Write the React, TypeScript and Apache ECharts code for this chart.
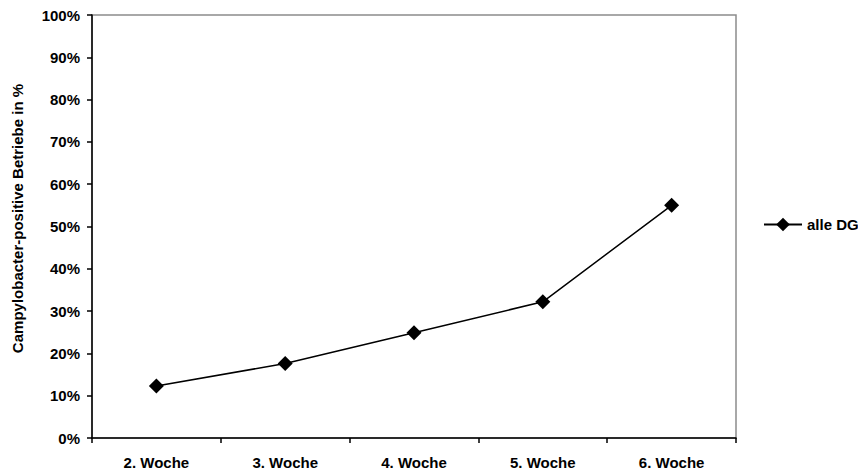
import React, { useEffect, useRef } from "react";
import * as echarts from "echarts";

const weeks = ["2. Woche", "3. Woche", "4. Woche", "5. Woche", "6. Woche"];
const positiveShare = [12.3, 17.6, 24.9, 32.2, 55.0];
const seriesName = "alle DG";
const yTitle = "Campylobacter-positive Betriebe in %";

const FONT = "Liberation Sans, Arial, Helvetica, sans-serif";

export default function App() {
  const ref = useRef<HTMLDivElement>(null);

  useEffect(() => {
    if (!ref.current) return;
    const chart = echarts.init(ref.current, undefined, { renderer: "svg" });
    chart.setOption({
      animation: false,
      backgroundColor: "#ffffff",
      textStyle: { fontFamily: FONT },
      grid: {
        left: 92,
        top: 15,
        right: 122,
        bottom: 36,
        show: true,
        borderColor: "#8c8c8c",
        borderWidth: 1.5,
        backgroundColor: "transparent",
      },
      legend: {
        left: 758,
        top: 212,
        itemWidth: 38,
        itemHeight: 17,
        itemGap: 0,
        textStyle: { fontFamily: FONT, fontWeight: "bold", fontSize: 15, color: "#000" },
        data: [seriesName],
      },
      xAxis: {
        type: "category",
        data: weeks,
        boundaryGap: true,
        axisLine: { lineStyle: { color: "#000", width: 1.5 } },
        axisTick: { show: true, length: 5, inside: false, lineStyle: { color: "#000", width: 1.5 } },
        axisLabel: { color: "#000", fontWeight: "bold", fontSize: 15, fontFamily: FONT, margin: 17 },
        splitLine: { show: false },
      },
      yAxis: {
        type: "value",
        min: 0,
        max: 100,
        interval: 10,
        name: yTitle,
        nameLocation: "middle",
        nameGap: 67,
        nameTextStyle: {
          color: "#000",
          fontWeight: "bold",
          fontSize: 15,
          fontFamily: FONT,
          padding: [0, 0, 0, 16],
        },
        axisLine: { show: true, lineStyle: { color: "#000", width: 1.5 } },
        axisTick: { show: true, length: 5, inside: false, lineStyle: { color: "#000", width: 1.5 } },
        axisLabel: {
          color: "#000",
          fontWeight: "bold",
          fontSize: 15,
          fontFamily: FONT,
          margin: 12,
          formatter: "{value}%",
        },
        splitLine: { show: false },
      },
      series: [
        {
          name: seriesName,
          type: "line",
          data: positiveShare,
          symbol: "diamond",
          symbolSize: 15,
          lineStyle: { color: "#000", width: 1.5 },
          itemStyle: { color: "#000" },
        },
      ],
    });
    return () => chart.dispose();
  }, []);

  return <div ref={ref} style={{ width: 858, height: 474, position: "absolute", left: 0, top: 0 }} />;
}
